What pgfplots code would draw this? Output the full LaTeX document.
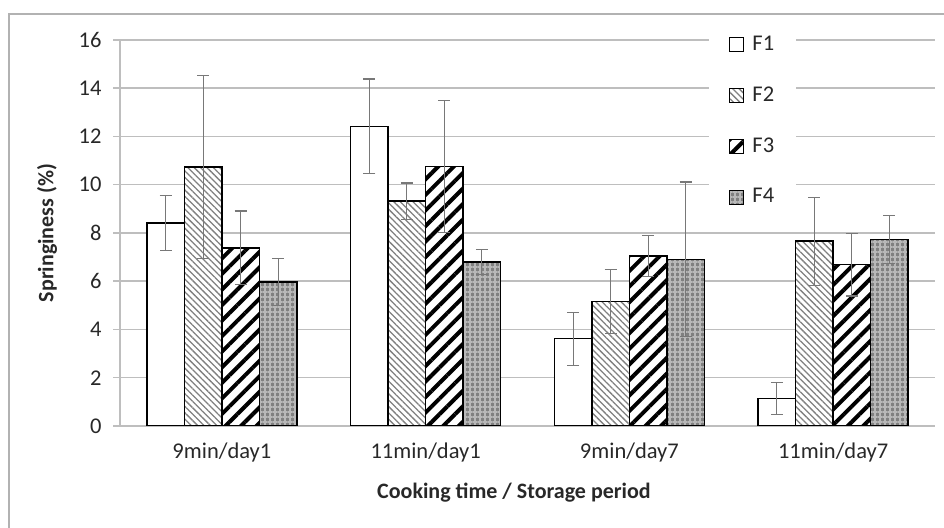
\documentclass[border=0pt]{standalone}
\usepackage{pgfplots}
\pgfplotsset{compat=1.18}
\usepackage{fontspec}
\setmainfont{Carlito}
\usetikzlibrary{patterns,patterns.meta}

\definecolor{gridgray}{RGB}{190,190,190}
\definecolor{errgray}{RGB}{120,120,120}
\definecolor{txt}{RGB}{40,40,40}

% x = category index, y = mean, e = error
\pgfplotstableread{
x y e
0 8.41 1.15
1 12.42 1.96
2 3.62 1.10
3 1.14 0.65
}\FOne
\pgfplotstableread{
x y e
0 10.73 3.79
1 9.32 0.75
2 5.17 1.32
3 7.66 1.82
}\FTwo
\pgfplotstableread{
x y e
0 7.38 1.53
1 10.76 2.73
2 7.05 0.85
3 6.69 1.30
}\FThree
\pgfplotstableread{
x y e
0 5.97 0.97
1 6.80 0.51
2 6.91 3.20
3 7.73 1.00
}\FFour

\begin{document}
\fontsize{22}{26}\selectfont
\begin{tikzpicture}
\useasboundingbox (0,0) rectangle (944pt,527pt);
\draw[gray!60, line width=1.5pt] (9pt,-20pt) -- (9pt,513pt) -- (960pt,513pt);
\begin{axis}[
  at={(120pt,101pt)}, anchor=south west,
  scale only axis, width=815pt, height=386pt,
  xmin=-0.5, xmax=3.5, ymin=0, ymax=16,
  ybar=0pt, bar width=37.5pt,
  axis x line*=bottom, axis y line*=left,
  axis line style={gridgray, line width=1.5pt},
  ytick={0,2,...,16},
  ymajorgrids, major grid style={gridgray, line width=1.5pt},
  xtick={0,1,2,3},
  xticklabels={9min/day1,11min/day1,9min/day7,11min/day7},
  x tick style={draw=none},
  extra x ticks={-0.5,0.5,1.5,2.5,3.5},
  extra x tick labels={},
  extra x tick style={tick style={draw=gridgray, line width=1.5pt}, major tick length=6pt, tick align=outside, grid=none},
  y tick style={gridgray, line width=1.5pt},
  major tick length=7pt, tick align=outside,
  /pgf/number format/assume math mode=true,
  tick label style={font=\fontsize{22.5}{26}\selectfont, text=txt},
  xticklabel style={anchor=north, yshift=-2pt},
  yticklabel style={anchor=east, xshift=-4pt},
  xlabel={\bfseries Cooking time / Storage period},
  ylabel={\bfseries Springiness (\%)},
  label style={font=\fontsize{22}{26}\selectfont, text=txt},
  xlabel style={at={(axis description cs:0.4834,-0.1736)}, anchor=center},
  ylabel style={at={(axis description cs:-0.0896,0.5)}, anchor=center},
  legend style={at={(axis description cs:0.7224,1.032)}, anchor=north west,
     draw=none, fill=white, row sep=29pt, inner xsep=20pt, inner ysep=6pt,
     font=\fontsize{22.5}{26}\selectfont, text=txt},
  legend cell align=left,
  legend image code/.code={\draw[#1, line width=1.5pt] (0pt,-7pt) rectangle (14pt,7pt); \path (20pt,0pt);},
  error bars/y dir=both, error bars/y explicit,
  error bars/error bar style={errgray, line width=1.2pt},
  error bars/error mark options={rotate=90, mark size=6pt, errgray, line width=1.2pt},
]
\addplot[draw=black, line width=1.5pt, fill=white]
  table[x=x, y=y, y error=e] {\FOne};
\addplot[draw=black, line width=1.5pt, fill=white,
  postaction={pattern={Lines[angle=-45, distance=4.5pt, line width=1.3pt]}, pattern color=gray}]
  table[x=x, y=y, y error=e] {\FTwo};
\addplot[draw=black, line width=1.5pt, fill=white,
  postaction={pattern={Lines[angle=45, distance=11pt, line width=4pt]}, pattern color=black}]
  table[x=x, y=y, y error=e] {\FThree};
\addplot[draw=black, line width=1.5pt, fill=black!50,
  postaction={pattern={Hatch[angle=0, distance=5pt, line width=1.4pt]}, pattern color=black!28}]
  table[x=x, y=y, y error=e] {\FFour};
\legend{F1,F2,F3,F4}
\end{axis}
\end{tikzpicture}
\end{document}
